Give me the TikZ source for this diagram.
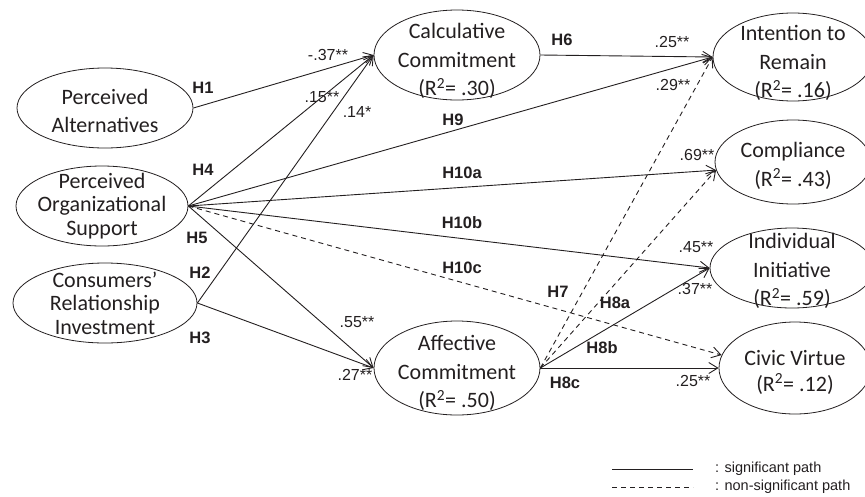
\documentclass[tikz,border=0pt]{standalone}
\usepackage{fontspec}
\setmainfont{Liberation Sans}
\newfontfamily\ellfont{Carlito}
\usetikzlibrary{shapes.geometric,arrows.meta}
\definecolor{ink}{HTML}{231F20}
\begin{document}
\begin{tikzpicture}[x=1pt,y=-1pt,color=ink,
    latent/.style={draw, ellipse, line width=0.8pt, inner sep=0pt},
    intext/.style={font=\ellfont\fontsize{22}{28.5}\selectfont, align=center, inner sep=0pt},
    tighttext/.style={font=\ellfont\fontsize{22}{23.5}\selectfont, align=center, inner sep=0pt},
    sig/.style={-{Straight Barb[length=9pt,width=11pt]}, line width=0.9pt},
    nonsig/.style={sig, dash pattern=on 5pt off 4pt},
    hyp/.style={font=\fontsize{16.5}{16.5}\selectfont\bfseries, inner sep=1pt},
    coef/.style={font=\fontsize{16}{16}\selectfont, inner sep=1pt},
    legend/.style={font=\fontsize{14.5}{14.5}\selectfont, anchor=west, inner sep=0pt}]
  \clip (0,0) rectangle (865,496);

  % constructs
  \node[latent, minimum width=176pt, minimum height=80pt,
    label={[intext, yshift=-3pt]center:Perceived\\Alternatives}] (pa) at (105,108) {};
  \node[latent, minimum width=172pt, minimum height=80pt,
    label={[tighttext]center:Perceived\\Organizational\\Support}] (pos) at (102,206) {};
  \node[latent, minimum width=184pt, minimum height=80pt,
    label={[tighttext]center:Consumers’\\Relationship\\Investment}] (cri) at (105,303) {};
  \node[latent, minimum width=166pt, minimum height=90pt,
    label={[intext, yshift=-6pt]center:Calculative\\Commitment\\(R\textsuperscript{2}= .30)}] (cc) at (457,55) {};
  \node[latent, minimum width=166pt, minimum height=94pt,
    label={[intext, yshift=-5pt]center:Affective\\Commitment\\(R\textsuperscript{2}= .50)}] (ac) at (457,368) {};
  \node[latent, minimum width=160pt, minimum height=88pt,
    label={[intext, yshift=-6pt]center:Intention to\\Remain\\(R\textsuperscript{2}= .16)}] (ir) at (793,57) {};
  \node[latent, minimum width=156pt, minimum height=84pt,
    label={[intext, yshift=-4pt]center:Compliance\\(R\textsuperscript{2}= .43)}] (comp) at (793,162) {};
  \node[latent, minimum width=164pt, minimum height=80pt,
    label={[intext, yshift=-3pt]center:Individual\\Initiative\\(R\textsuperscript{2}= .59)}] (ii) at (792,268) {};
  \node[latent, minimum width=152pt, minimum height=92pt,
    label={[intext, yshift=-4pt, font=\ellfont\fontsize{22}{26}\selectfont]center:Civic Virtue\\(R\textsuperscript{2}= .12)}] (cv) at (795,368) {};

  % paths
  \draw[sig] (pa.east) -- (cc.west);
  \draw[sig] (pos.east) -- (cc.west);
  \draw[sig] (cri.east) -- (cc.west);
  \draw[sig] (pos.east) -- (ac.west);
  \draw[sig] (cri.east) -- (ac.west);
  \draw[sig] (cc.east) -- (ir.west);
  \draw[sig] (pos.east) -- (ir.west);
  \draw[sig] (pos.east) -- (comp.186);
  \draw[sig] (pos.east) -- (ii.west);
  \draw[nonsig] (pos.east) -- (cv.170);
  \draw[nonsig] (ac.east) -- (ir.west);
  \draw[nonsig] (ac.east) -- (comp.186);
  \draw[sig] (ac.east) -- (ii.west);
  \draw[sig] (ac.east) -- (cv.west);

  % hypotheses
  \node[hyp] (h1) at (203,88) {H1};
  \node[hyp] (h4) at (203,170) {H4};
  \node[hyp] (h5) at (197,238) {H5};
  \node[hyp] (h2) at (200,273) {H2};
  \node[hyp] (h3) at (200,338) {H3};
  \node[hyp] (h6) at (562,40) {H6};
  \node[hyp] (h9) at (453,120) {H9};
  \node[hyp] (h10a) at (462,173) {H10a};
  \node[hyp] (h10b) at (462,223) {H10b};
  \node[hyp] (h10c) at (462,268) {H10c};
  \node[hyp] (h7) at (558,292) {H7};
  \node[hyp] (h8a) at (615,303) {H8a};
  \node[hyp] (h8b) at (602,348) {H8b};
  \node[hyp] (h8c) at (565,383) {H8c};

  % coefficients
  \node[coef] (c1) at (328,55) {-.37**};
  \node[coef] (c4) at (322,97) {.15**};
  \node[coef] (c2) at (357,112) {.14*};
  \node[coef] (c5) at (357,322) {.55**};
  \node[coef] (c3) at (355,375) {.27**};
  \node[coef] (c6) at (672,42) {.25**};
  \node[coef] (c9) at (673,85) {.29**};
  \node[coef] (c10a) at (697,155) {.69**};
  \node[coef] (c10b) at (696,247) {.45**};
  \node[coef] (c8b) at (695,289) {.37**};
  \node[coef] (c8c) at (693,381) {.25**};

  % legend
  \coordinate (s1) at (612,469);
  \coordinate (s2) at (693,469);
  \coordinate (n1) at (612,487);
  \coordinate (n2) at (693,487);
  \draw[line width=0.9pt] (s1) -- (s2);
  \draw[line width=0.9pt, dash pattern=on 5pt off 4pt] (n1) -- (n2);
  \node[legend] (ls) at (715,469) {: significant path};
  \node[legend] (ln) at (715,487) {: non-significant path};
\end{tikzpicture}
\end{document}
